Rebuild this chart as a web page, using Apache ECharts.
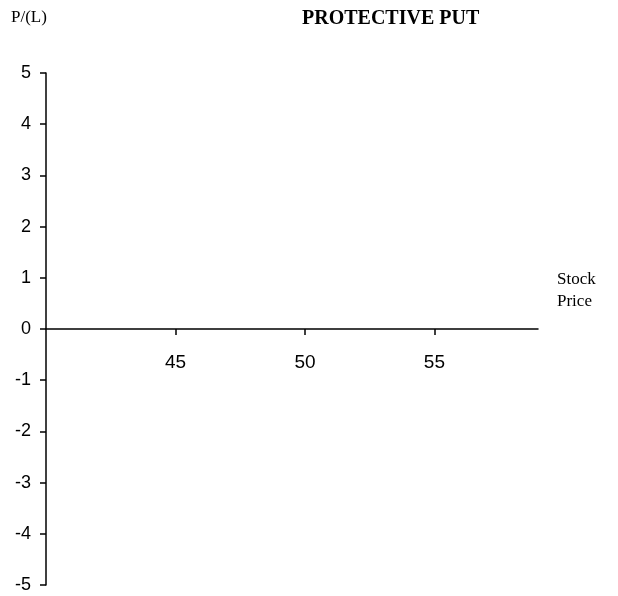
<!DOCTYPE html>
<html>
<head>
<meta charset="utf-8">
<script src="https://cdn.jsdelivr.net/npm/echarts@6/dist/echarts.min.js"></script>
<style>
html,body{margin:0;padding:0;background:#fff;}
#chart{width:618px;height:596px;}
</style>
</head>
<body>
<div id="chart"></div>
<script>
const chartTitle = 'PROTECTIVE PUT';
const yAxisName = 'P/(L)';
const xAxisName = 'Stock\nPrice';
const xTickValues = [45, 50, 55];
const xRange = [40, 59];
const yRange = [-5, 5];
const payoff = []; // no data series plotted in the reference

const gridTop = 73, gridBottom = 11, H = 596;
const gridH = H - gridTop - gridBottom;
const zeroOffset = -gridH * (0 - yRange[0]) / (yRange[1] - yRange[0]);

const chart = echarts.init(document.getElementById('chart'));
chart.setOption({
  backgroundColor: '#fff',
  animation: false,
  title: [
    { text: chartTitle, left: 297, top: 4,
      textStyle: { fontFamily: 'Liberation Serif, Times New Roman, serif', fontWeight: 'bold', fontSize: 20, color: '#000' } },
    { text: yAxisName, left: 6, top: 4,
      textStyle: { fontFamily: 'Liberation Serif, Times New Roman, serif', fontWeight: 'normal', fontSize: 17, color: '#000' } },
    { text: xAxisName, left: 552, top: 264,
      textStyle: { fontFamily: 'Liberation Serif, Times New Roman, serif', fontWeight: 'normal', fontSize: 17, color: '#000', lineHeight: 22 } }
  ],
  grid: { left: 46, right: 80, top: gridTop, bottom: gridBottom, containLabel: false, outerBoundsMode: 'none' },
  xAxis: {
    type: 'value', min: xRange[0], max: xRange[1], interval: 5,
    position: 'bottom', offset: zeroOffset,
    axisLine: { onZero: false, lineStyle: { color: '#000', width: 1.5 } },
    axisTick: { show: true, length: 6, customValues: xTickValues, lineStyle: { color: '#000', width: 1.5 } },
    axisLabel: { customValues: xTickValues, margin: 24, fontFamily: 'Liberation Sans, Arial, sans-serif', fontSize: 19, color: '#000' },
    splitLine: { show: false }
  },
  yAxis: {
    type: 'value', min: yRange[0], max: yRange[1], interval: 1,
    axisLine: { show: true, onZero: false, lineStyle: { color: '#000', width: 1.5 } },
    axisTick: { show: true, length: 6, lineStyle: { color: '#000', width: 1.5 } },
    axisLabel: { margin: 15, fontFamily: 'Liberation Sans, Arial, sans-serif', fontSize: 18, color: '#000' },
    splitLine: { show: false }
  },
  series: [{ type: 'line', data: payoff, symbol: 'none', lineStyle: { color: '#000' } }]
});
</script>
</body>
</html>
